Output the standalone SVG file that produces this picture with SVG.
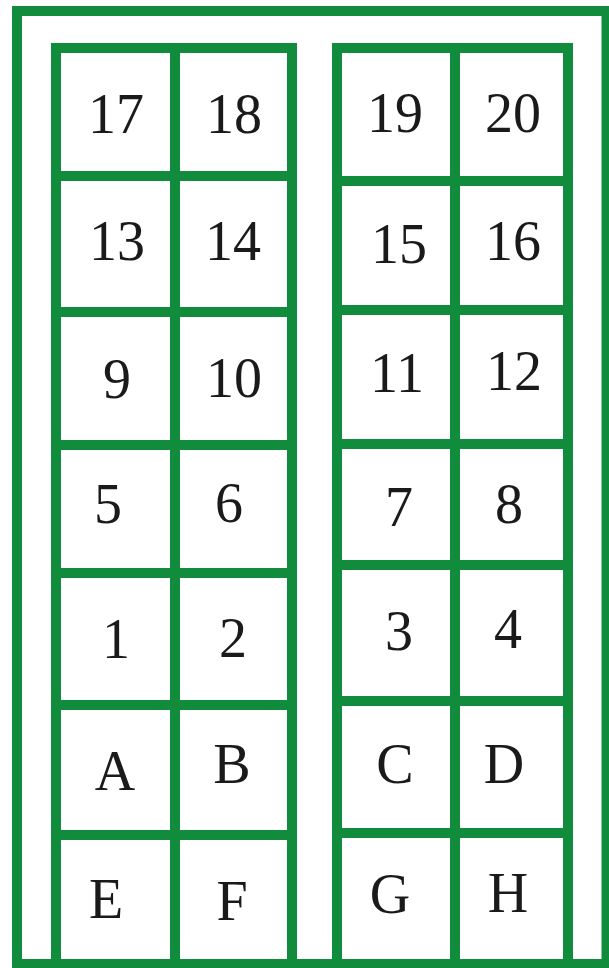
<svg xmlns="http://www.w3.org/2000/svg" width="609" height="968" viewBox="0 0 609 968">
<style>
.f{fill:none;stroke:#108c3c;stroke-width:10}
.c{fill:none;stroke:#108c3c;stroke-width:10}
text{font-family:"Liberation Serif","DejaVu Serif",serif;font-size:56px;fill:#1a1a1a;text-anchor:middle}
</style>
<rect width="609" height="968" fill="#fff"/>
<g id="frame"><rect class="f" x="17" y="11" width="589.5" height="953"/></g>
<g id="cell-17"><rect class="c" x="56" y="48" width="119" height="128"/><text x="116" y="133">17</text></g>
<g id="cell-18"><rect class="c" x="175" y="48" width="117" height="128"/><text x="234" y="133">18</text></g>
<g id="cell-19"><rect class="c" x="337" y="48" width="118" height="133"/><text x="395" y="132">19</text></g>
<g id="cell-20"><rect class="c" x="455" y="48" width="113" height="133"/><text x="513" y="132">20</text></g>
<g id="cell-13"><rect class="c" x="56" y="176" width="119" height="136"/><text x="117" y="260">13</text></g>
<g id="cell-14"><rect class="c" x="175" y="176" width="117" height="136"/><text x="233" y="260">14</text></g>
<g id="cell-15"><rect class="c" x="337" y="181" width="118" height="129"/><text x="399" y="263">15</text></g>
<g id="cell-16"><rect class="c" x="455" y="181" width="113" height="129"/><text x="513" y="260">16</text></g>
<g id="cell-9"><rect class="c" x="56" y="312" width="119" height="133"/><text x="117" y="398">9</text></g>
<g id="cell-10"><rect class="c" x="175" y="312" width="117" height="133"/><text x="234" y="397">10</text></g>
<g id="cell-11"><rect class="c" x="337" y="310" width="118" height="134"/><text x="397" y="392">11</text></g>
<g id="cell-12"><rect class="c" x="455" y="310" width="113" height="134"/><text x="514" y="390">12</text></g>
<g id="cell-5"><rect class="c" x="56" y="445" width="119" height="128"/><text x="108" y="523">5</text></g>
<g id="cell-6"><rect class="c" x="175" y="445" width="117" height="128"/><text x="229" y="522">6</text></g>
<g id="cell-7"><rect class="c" x="337" y="444" width="118" height="121"/><text x="399" y="526">7</text></g>
<g id="cell-8"><rect class="c" x="455" y="444" width="113" height="121"/><text x="509" y="523">8</text></g>
<g id="cell-1"><rect class="c" x="56" y="573" width="119" height="132"/><text x="116" y="658">1</text></g>
<g id="cell-2"><rect class="c" x="175" y="573" width="117" height="132"/><text x="233" y="657">2</text></g>
<g id="cell-3"><rect class="c" x="337" y="565" width="118" height="136"/><text x="399" y="650">3</text></g>
<g id="cell-4"><rect class="c" x="455" y="565" width="113" height="136"/><text x="508" y="648">4</text></g>
<g id="cell-A"><rect class="c" x="56" y="705" width="119" height="130"/><text x="115" y="790">A</text></g>
<g id="cell-B"><rect class="c" x="175" y="705" width="117" height="130"/><text x="232" y="783">B</text></g>
<g id="cell-C"><rect class="c" x="337" y="701" width="118" height="132"/><text x="395" y="783">C</text></g>
<g id="cell-D"><rect class="c" x="455" y="701" width="113" height="132"/><text x="504" y="783">D</text></g>
<g id="cell-E"><rect class="c" x="56" y="835" width="119" height="129"/><text x="106" y="918">E</text></g>
<g id="cell-F"><rect class="c" x="175" y="835" width="117" height="129"/><text x="232" y="920">F</text></g>
<g id="cell-G"><rect class="c" x="337" y="833" width="118" height="131"/><text x="390" y="913">G</text></g>
<g id="cell-H"><rect class="c" x="455" y="833" width="113" height="131"/><text x="508" y="912">H</text></g>
<g id="connectors"></g>
</svg>
